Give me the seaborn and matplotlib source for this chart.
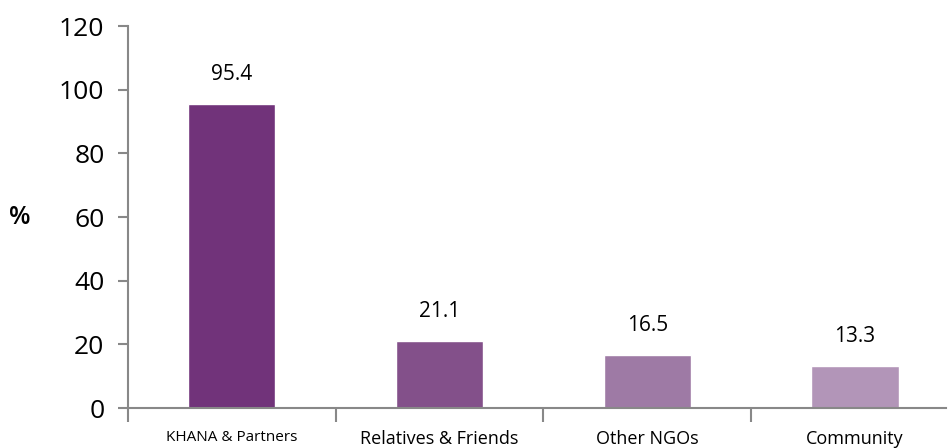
import matplotlib
matplotlib.use("Agg")
import matplotlib.pyplot as plt
import seaborn as sns
import pandas as pd
import numpy as np

categories = ["KHANA & Partners", "Relatives & Friends", "Other NGOs", "Community"]
values = [95.4, 21.1, 16.5, 13.3]
colors = ["#71337A", "#83508A", "#9E7AA5", "#B295B8"]

sns.set_style("white")
plt.rcParams['font.family'] = ['Open Sans', 'DejaVu Sans']
plt.rcParams['text.color'] = 'black'
plt.rcParams['xtick.color'] = 'black'
plt.rcParams['ytick.color'] = 'black'
plt.rcParams['axes.labelcolor'] = 'black'

df = pd.DataFrame({"source": categories, "pct": values})

fig = plt.figure(figsize=(9.49, 4.48), dpi=100)
ax = fig.add_axes([128 / 949, 40 / 448, (946 - 128) / 949, (408 - 26) / 448])

sns.barplot(data=df, x="source", y="pct", hue="source", palette=colors,
            width=0.42, saturation=1, legend=False, ax=ax)

for i, v in enumerate(values):
    ax.text(i, v + 6, f"{v}", ha="center", va="bottom", fontsize=15, color="black")

ax.set_ylim(0, 120)
ax.set_yticks(range(0, 121, 20))
ax.set_xlim(-0.5, -0.5 + (946 - 128) / 207.7)

# boundary ticks between categories
ax.set_xticks(np.arange(-0.5, 3.5, 1.0), minor=True)
ax.tick_params(axis="x", which="minor", bottom=True, length=10, width=1.5,
               color="#888888", direction="out")
ax.tick_params(axis="x", which="major", bottom=True, length=0, pad=16, labelsize=13,
               labelcolor="black")
ax.tick_params(axis="y", left=True, length=7, width=1.5, color="#888888",
               direction="out", labelsize=19, pad=10, labelcolor="black")
for lbl in ax.get_xticklabels():
    if lbl.get_text() == "KHANA & Partners":
        lbl.set_fontsize(11)

ax.set_xlabel("")
ax.set_ylabel("%", rotation=0, fontsize=18, fontweight="semibold", labelpad=28,
              va="center", color="black")

for side in ["top", "right"]:
    ax.spines[side].set_visible(False)
for side in ["left", "bottom"]:
    ax.spines[side].set_color("#888888")
    ax.spines[side].set_linewidth(1.5)

fig.savefig("out.png", dpi=100)
